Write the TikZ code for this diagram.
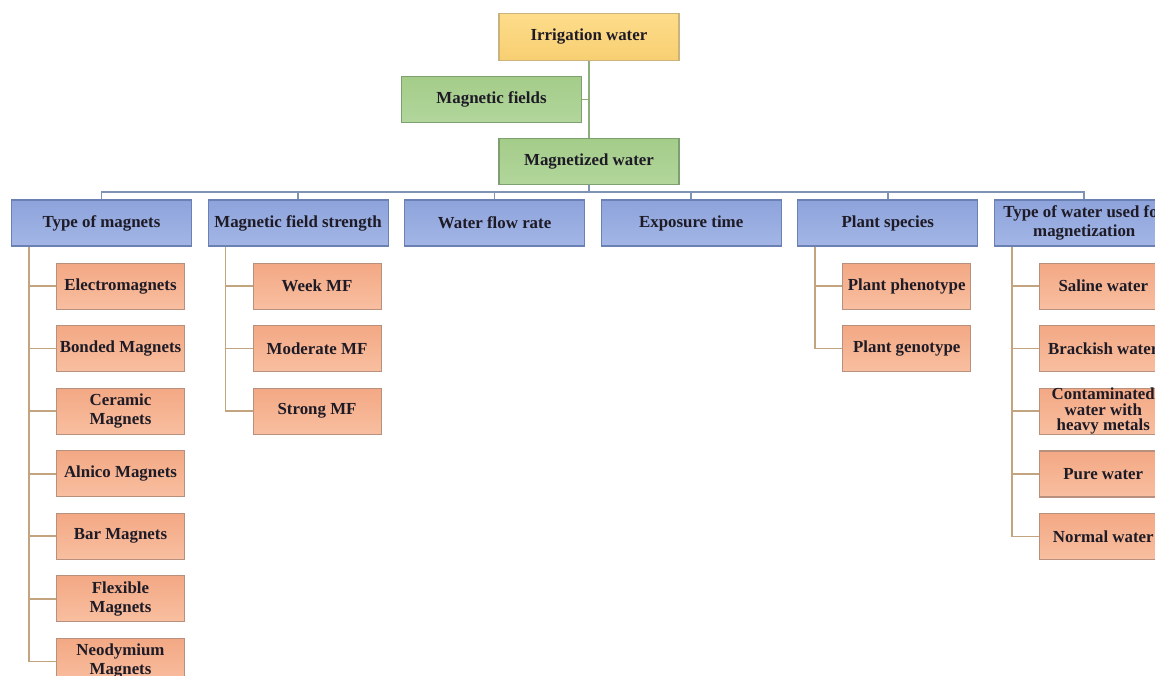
\documentclass[tikz,border=0pt]{standalone}
\usepackage{fontspec}
\setmainfont{Liberation Serif}
\usetikzlibrary{positioning}
\definecolor{txtcol}{HTML}{1E1B26}
\definecolor{yelline}{HTML}{C9B27C}
\definecolor{grnline}{HTML}{7E9F70}
\definecolor{bluline}{HTML}{6B80B3}
\definecolor{orgline}{HTML}{B8907E}
\definecolor{yeltop}{HTML}{FDDC8A}
\definecolor{yelbot}{HTML}{F8CF72}
\definecolor{grntop}{HTML}{A4CC89}
\definecolor{grnbot}{HTML}{B2D69C}
\definecolor{blutop}{HTML}{8DA3DB}
\definecolor{blubot}{HTML}{A3B6E6}
\definecolor{orgtop}{HTML}{F3A884}
\definecolor{orgbot}{HTML}{F8BFA0}
\definecolor{trunkcol}{HTML}{8DAE7C}
\definecolor{buscol}{HTML}{7F93B5}
\definecolor{tancol}{HTML}{C2A57F}
\tikzset{
box/.style={draw, rectangle, minimum height=0.93cm, align=center, inner sep=1pt,
  line width=0.6pt, text=txtcol, font=\bfseries\fontsize{9.6}{10.8}\selectfont}, % common look of all boxes
yelbox/.style={box, minimum width=3.6cm, draw=yelline, top color=yeltop, bottom color=yelbot},
grnbox/.style={box, minimum width=3.6cm, draw=grnline, top color=grntop, bottom color=grnbot},
blubox/.style={box, minimum width=3.6cm, minimum height=0.92cm, draw=bluline, top color=blutop, bottom color=blubot},
kidbox/.style={box, minimum width=2.56cm, minimum height=0.92cm, draw=orgline, top color=orgtop, bottom color=orgbot},
trunk/.style={draw=trunkcol, line width=1.1pt}, % green stem
bus/.style={draw=buscol, line width=1pt},     % line to the six groups
twig/.style={draw=tancol, line width=1pt},    % lines to the small boxes
node distance=0.31cm, % gap between neighbouring boxes
}

\begin{document}
\begin{tikzpicture}
  \useasboundingbox (0,0) rectangle (23.1,-13.5);
  \clip (0,0) rectangle (23.1,-13.5);

  \node[yelbox] (irr) at (11.78,-0.74) {Irrigation water};
  \node[grnbox] (mf) at (9.83,-1.99) {Magnetic fields};
  \node[grnbox, below=1.54cm of irr] (mw) {Magnetized water};

  % the six groups
  \node[blubox] (tm) at (2.03,-4.46) {Type of magnets};
  \node[blubox, right=of tm] (mfs) {Magnetic field strength};
  \node[blubox, right=of mfs] (wfr) {Water flow rate};
  \node[blubox, right=of wfr] (et) {Exposure time};
  \node[blubox, right=of et] (ps) {Plant species};
  \node[blubox, right=of ps] (tw) {Type of water used for\\magnetization};

  % type of magnets
  \node[kidbox, below=0.32cm of tm.south west, anchor=north west, xshift=0.9cm] (t1) {Electromagnets};
  \node[kidbox, below=of t1] (t2) {Bonded Magnets};
  \node[kidbox, below=of t2] (t3) {Ceramic\\Magnets};
  \node[kidbox, below=of t3] (t4) {Alnico Magnets};
  \node[kidbox, below=of t4] (t5) {Bar Magnets};
  \node[kidbox, below=of t5] (t6) {Flexible\\Magnets};
  \node[kidbox, below=of t6] (t7) {Neodymium\\Magnets};

  % field strength
  \node[kidbox, below=0.32cm of mfs.south west, anchor=north west, xshift=0.9cm] (s1) {Week MF};
  \node[kidbox, below=of s1] (s2) {Moderate MF};
  \node[kidbox, below=of s2] (s3) {Strong MF};

  % plant species
  \node[kidbox, below=0.32cm of ps.south west, anchor=north west, xshift=0.9cm] (p1) {Plant phenotype};
  \node[kidbox, below=of p1] (p2) {Plant genotype};

  % type of water
  \node[kidbox, below=0.32cm of tw.south west, anchor=north west, xshift=0.9cm] (w1) {Saline water};
  \node[kidbox, below=of w1] (w2) {Brackish water};
  \node[kidbox, below=of w2, font=\bfseries\fontsize{9.6}{8.8}\selectfont, inner ysep=0pt] (w3) {Contaminated\\water with\\heavy metals};
  \node[kidbox, below=of w3] (w4) {Pure water};
  \node[kidbox, below=of w4] (w5) {Normal water};

  \draw[trunk] (irr) -- (mw)
        (mf.east) -- (mf.east -| irr.south);

  \draw[bus] (mw.south) -- ++(0,-0.14) coordinate (hub);
  \draw[bus] (tm.north) |- (hub)
        (mfs.north) |- (hub)
        (wfr.north) |- (hub)
        (et.north) |- (hub)
        (ps.north) |- (hub)
        (tw.north) |- (hub);

  \draw[twig] ([xshift=0.36cm]tm.south west) |- (t7.west)
        ([xshift=0.36cm]tm.south west) |- (t1.west)
        ([xshift=0.36cm]tm.south west) |- (t2.west)
        ([xshift=0.36cm]tm.south west) |- (t3.west)
        ([xshift=0.36cm]tm.south west) |- (t4.west)
        ([xshift=0.36cm]tm.south west) |- (t5.west)
        ([xshift=0.36cm]tm.south west) |- (t6.west);
  \draw[twig] ([xshift=0.36cm]mfs.south west) |- (s3.west)
        ([xshift=0.36cm]mfs.south west) |- (s1.west)
        ([xshift=0.36cm]mfs.south west) |- (s2.west);
  \draw[twig] ([xshift=0.36cm]ps.south west) |- (p2.west)
        ([xshift=0.36cm]ps.south west) |- (p1.west);
  \draw[twig] ([xshift=0.36cm]tw.south west) |- (w5.west)
        ([xshift=0.36cm]tw.south west) |- (w1.west)
        ([xshift=0.36cm]tw.south west) |- (w2.west)
        ([xshift=0.36cm]tw.south west) |- (w3.west)
        ([xshift=0.36cm]tw.south west) |- (w4.west);

\end{tikzpicture}
\end{document}
